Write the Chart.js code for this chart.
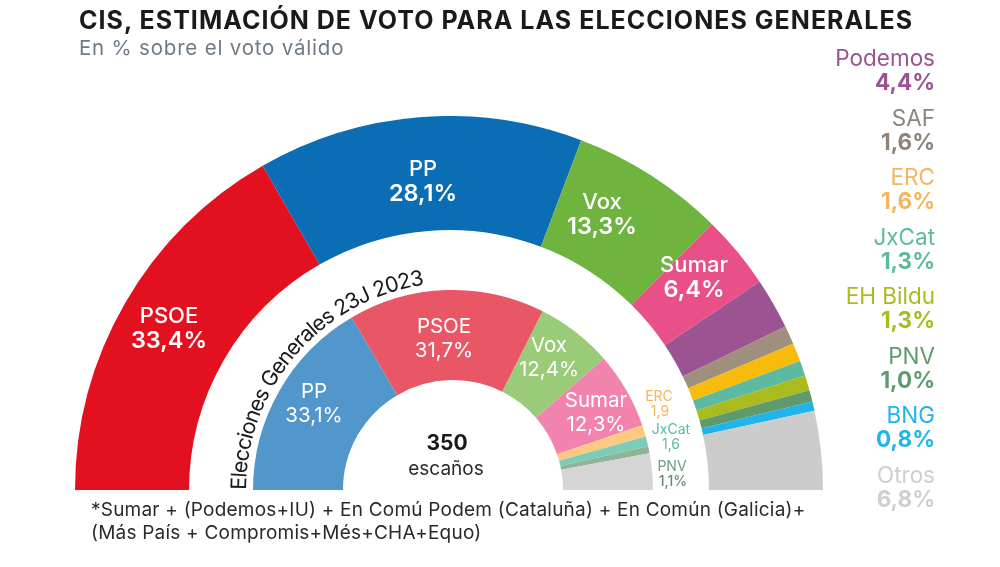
<!DOCTYPE html>
<html lang="es"><head><meta charset="utf-8">
<script src="https://cdn.jsdelivr.net/npm/chart.js@4"></script>
<style>
html,body{margin:0;padding:0;background:#fff;width:1000px;height:567px;overflow:hidden;font-family:Inter,"Liberation Sans",sans-serif}
canvas{position:absolute;display:block}
.t{position:absolute;white-space:nowrap;line-height:1;transform:translate(-50%,-50%)}
.r{position:absolute;white-space:nowrap;line-height:1;transform:translate(-100%,-50%)}
.l{position:absolute;white-space:nowrap;line-height:1;transform:translateY(-50%)}
svg{position:absolute;left:0;top:0}
</style></head><body>
<canvas id="outer" style="left:75px;top:116px"></canvas>
<canvas id="inner" style="left:253px;top:290px"></canvas>
<svg width="1000" height="567"><path id="arc" d="M 246 490 A 207 207 0 0 1 424 285" fill="none"/><text id="arcText" font-size="21.5" fill="#1a1a1a" letter-spacing="-0.95"><textPath href="#arc"></textPath></text></svg>
<script>
const outerCategories=["PSOE","PP","Vox","Sumar","Podemos","SAF","ERC","JxCat","EH Bildu","PNV","BNG","Otros"];
const outerValues=[33.4,28.1,13.3,6.4,4.4,1.6,1.6,1.3,1.3,1.0,0.8,6.8];
const outerColors=["#e3101f","#0b6db3","#6eb43f","#e94f88","#9c5392","#a08f7e","#f6bb0b","#5bbaa0","#a9bb1f","#5e9a6b","#1fb5ea","#cccccc"];
const innerCategories=["PP","PSOE","Vox","Sumar","ERC","JxCat","PNV","Otros"];
const innerValues=[33.1,31.7,12.4,12.3,1.9,1.6,1.1,5.9];
const innerColors=["#5197cb","#e95766","#9acb78","#f283ae","#fbc97f","#7dccb8","#8eb596","#d5d5d5"];
const legendColors=["#9c5392","#8f8378","#f5b55f","#5bbaa0","#a9bb1f","#5e9a6b","#1fb5ea","#cfcfcf"];
const titleText="CIS, ESTIMACIÓN DE VOTO PARA LAS ELECCIONES GENERALES";
const subtitleText="En % sobre el voto válido";
const arcLabel="Elecciones Generales 23J 2023";
const centerValue="350";
const centerLabel="escaños";
const footnote=["*Sumar + (Podemos+IU) + En Comú Podem (Cataluña) + En Común (Galicia)+","(Más País + Compromis+Més+CHA+Equo)"];

const fmt=v=>v.toFixed(1).replace(".",",");
function ring(id,w,h,cut,labels,data,colors){
  const c=document.getElementById(id);c.width=w;c.height=h;c.style.width=w+"px";c.style.height=h+"px";
  new Chart(c,{type:"doughnut",data:{labels,datasets:[{data,backgroundColor:colors,borderWidth:0}]},
    options:{responsive:false,animation:false,rotation:-90,circumference:180,cutout:cut,
      layout:{padding:0},plugins:{legend:{display:false},tooltip:{enabled:false}}}});
}
ring("outer",748,374,"69.5%",outerCategories,outerValues,outerColors);
ring("inner",400,200,"55%",innerCategories,innerValues,innerColors);

function put(cls,x,y,text,size,color,weight,extra){
  const d=document.createElement("div");d.className=cls;d.textContent=text;
  d.style.cssText=`left:${x}px;top:${y}px;font-size:${size}px;color:${color};font-weight:${weight||400};${extra||""}`;
  document.body.appendChild(d);
}
put("l",79,20,titleText,25,"#1a1a1a",700,"letter-spacing:1.03px");
put("l",79,48,subtitleText,20.5,"#6d7a85",400,"letter-spacing:0.8px");
footnote.forEach((s,i)=>put("l",91,[509,532][i],s,19,"#2a2a2a",400,"letter-spacing:0.22px"));
put("t",447,442,centerValue,21,"#1a1a1a",700);
put("t",446,468,centerLabel,19,"#2a2a2a",400);
document.querySelector("#arcText textPath").textContent=arcLabel;

// outer ring labels
const outerPos={PSOE:[169,315],PP:[423,168],Vox:[602,201],Sumar:[694,264]};
Object.keys(outerPos).forEach(k=>{const [x,y]=outerPos[k],v=outerValues[outerCategories.indexOf(k)];
  put("t",x,y,k,22,"#fff",500);put("t",x,y+24.5,fmt(v)+"%",23.5,"#fff",600);});
// inner ring labels
const innerPos={PP:[314,391],PSOE:[444,326],Vox:[549,345],Sumar:[596,400]};
Object.keys(innerPos).forEach(k=>{const [x,y]=innerPos[k],v=innerValues[innerCategories.indexOf(k)];
  put("t",x,y,k,20.5,"#fff",400);put("t",x,y+24,fmt(v)+"%",20.5,"#fff",400);});
// small inner labels
put("t",659,396,"ERC",14,"#f5b55f",400);put("t",660,411,fmt(innerValues[4]),14,"#f5b55f",400);
put("t",671,429,"JxCat",14,"#5bbaa0",400);put("t",671,444,fmt(innerValues[5]),14,"#5bbaa0",400);
put("t",672,466,"PNV",14,"#6f9f80",400);put("t",673,481,fmt(innerValues[6])+"%",14,"#5e8f6f",500);
// legend
const legendNames=outerCategories.slice(4);
legendNames.forEach((n,i)=>{const v=outerValues[outerCategories.indexOf(n)],y=58+i*59.5;
  put("r",935,y,n,22.5,legendColors[i],400);put("r",935,y+24,fmt(v)+"%",22.5,legendColors[i],700);});
</script></body></html>
